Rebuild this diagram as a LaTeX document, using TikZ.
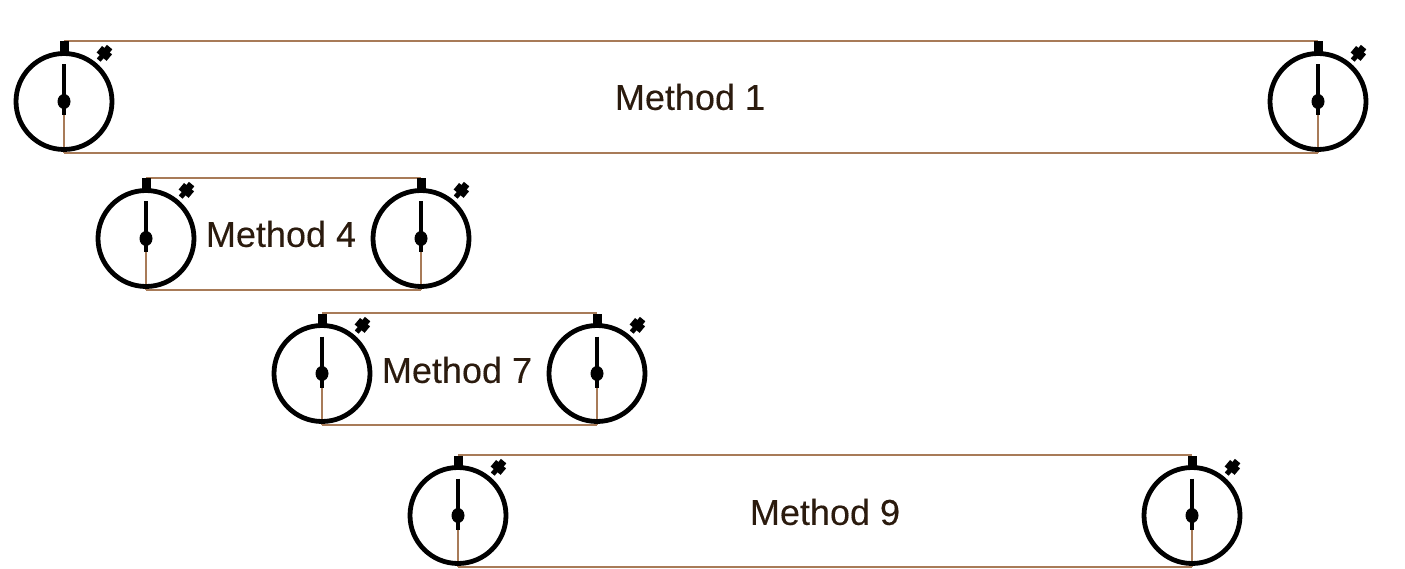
\documentclass[tikz,border=0pt]{standalone}
\usepackage{fontspec}
\setmainfont{Liberation Sans}
\newfontfamily\methodfont[FakeBold=0.25]{Liberation Sans}
\usetikzlibrary{calc,backgrounds}
\definecolor{linkbrown}{HTML}{A87B58}
\definecolor{textbrown}{HTML}{2B1B0E}
\tikzset{
      link/.style = {draw=linkbrown, line width=2pt},
     stemline/.style = {draw=linkbrown, line width=1.5pt},
     watch/.style = {circle, draw=black, line width=4.8pt, minimum size=96pt, inner sep=0pt},
    method/.style = {font=\methodfont\fontsize{36}{40}\selectfont, text=textbrown},
}
% name, x, y of the centre
\newcommand{\stopwatch}[3]{
  \node[watch] (#1) at (#2,#3) {};
  \coordinate (#1 top) at ($(#1.center)+(0,-60.5)$);
  \coordinate (#1 bot) at ($(#1.center)+(0,51.5)$);
  \begin{scope}[on background layer]
    \draw[stemline] (#1.center) -- (#1 bot);
  \end{scope}
  \fill[black] ($(#1.center)+(-4.5,-60)$) rectangle ($(#1.center)+(4.5,-47)$);
  \draw[black, line width=4.4pt] ($(#1.center)+(0,-37)$) -- ($(#1.center)+(0,14)$);
  \fill[black] (#1.center) ellipse (6.5 and 7.5);
  \begin{scope}[rotate around={-40:(#1.center)}]
    \fill[black] ($(#1.center)+(-2.5,-60)$) rectangle ($(#1.center)+(2.5,-54)$);
    \fill[black] ($(#1.center)+(-6.5,-67)$) rectangle ($(#1.center)+(6.5,-58.5)$);
    \fill[black] ($(#1.center)+(-3.5,-71)$) rectangle ($(#1.center)+(3.5,-65)$);
  \end{scope}
}
\begin{document}
\begin{tikzpicture}[x=1pt,y=-1pt]
  \useasboundingbox (0,0) rectangle (1405,569);

  \stopwatch{A}{64}{101.5}
  \stopwatch{B}{1318}{101.5}
  \stopwatch{C}{146}{238.5}
  \stopwatch{D}{421}{238.5}
  \stopwatch{E}{322}{373.5}
  \stopwatch{F}{597}{373.5}
  \stopwatch{G}{458}{515.5}
  \stopwatch{H}{1192}{515.5}

  \begin{scope}[on background layer]
    \draw[link] (A top) -- (B top);
    \draw[link] (A bot) -- (B bot);
    \draw[link] (C top) -- (D top);
    \draw[link] (C bot) -- (D bot);
    \draw[link] (E top) -- (F top);
    \draw[link] (E bot) -- (F bot);
    \draw[link] (G top) -- (H top);
    \draw[link] (G bot) -- (H bot);
  \end{scope}

  \node[method] (m1) at (690,97) {Method 1};
  \node[method] (m4) at (281,234) {Method 4};
  \node[method] (m7) at (457,370) {Method 7};
  \node[method] (m9) at (825,512) {Method 9};
\end{tikzpicture}
\end{document}
